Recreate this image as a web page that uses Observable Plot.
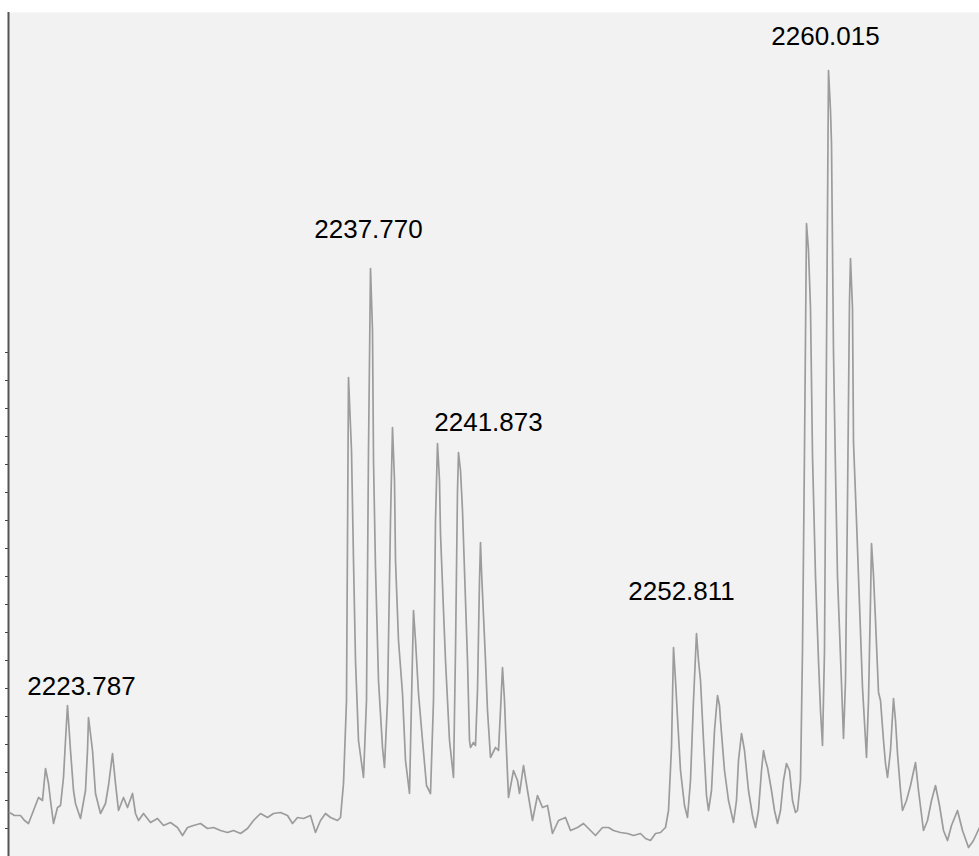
<!DOCTYPE html>
<html>
<head>
<meta charset="utf-8">
<script src="https://cdn.jsdelivr.net/npm/d3@7"></script>
<script src="https://cdn.jsdelivr.net/npm/@observablehq/plot@0.6"></script>
<style>
  html, body { margin: 0; padding: 0; background: #ffffff; }
  #chart svg { display: block; }
</style>
</head>
<body>
<div id="chart"></div>
<script>
// Spectrum trace: [m/z, counts]
const lowMassRegion = [
  [2220.90,220],[2221.15,205],[2221.45,205],[2221.65,180],[2221.85,165],[2222.10,230],[2222.35,295],[2222.55,280],
  [2222.70,440],[2222.85,365],[2222.95,280],[2223.10,165],[2223.30,245],[2223.45,255],[2223.60,395],[2223.70,580],
  [2223.80,755],[2223.95,530],[2224.10,330],[2224.20,265],[2224.45,190],[2224.70,330],[2224.80,530],[2224.85,695],
  [2225.05,530],[2225.20,315],[2225.45,215],[2225.70,265],[2225.85,355],[2226.05,515],[2226.20,365],[2226.35,230],
  [2226.60,295],[2226.80,245],[2227.05,315],[2227.20,215],[2227.35,180],[2227.60,215],[2227.95,170],[2228.30,190],
  [2228.60,155],[2228.95,170],[2229.30,145],[2229.55,105],[2229.80,145],[2230.10,155],[2230.45,165],[2230.80,140],
  [2231.10,145],[2231.45,130],[2231.80,120],[2232.10,130],[2232.45,115],[2232.80,140],[2233.10,180],[2233.45,215],
  [2233.80,195],[2234.10,215],[2234.45,220],[2234.80,205],[2235.05,165],[2235.30,195],[2235.60,190],[2235.95,205],
  [2236.20,120],[2236.45,180],[2236.70,215],[2236.95,195],[2237.30,180],[2237.45,195]
];
const cluster2238 = [
  [2237.60,365],[2237.75,780],[2237.85,2395],[2238.00,2030],[2238.10,1480],[2238.20,980],[2238.35,580],[2238.60,395],
  [2238.75,780],[2238.85,2030],[2238.95,2940],[2239.05,2630],[2239.10,1980],[2239.20,1445],[2239.35,880],[2239.55,545],
  [2239.65,445],[2239.80,780],[2239.95,1680],[2240.05,2145],[2240.15,1880],[2240.20,1480],[2240.35,1080],[2240.55,815],
  [2240.70,480],[2240.90,315],[2241.00,780],[2241.10,1230],[2241.20,1080],[2241.35,815],[2241.55,580],[2241.75,355],
  [2241.95,315],[2242.10,780],[2242.20,1680],[2242.30,2065],[2242.40,1880],[2242.45,1615],[2242.60,1230],[2242.70,980],
  [2242.90,580],[2243.10,395],[2243.20,1030],[2243.30,1830],[2243.35,2020],[2243.45,1930],[2243.55,1730],[2243.70,1280],
  [2243.80,980],[2243.90,580],[2243.95,545],[2244.10,570],[2244.20,555],[2244.30,830],[2244.40,1380],[2244.45,1570],
  [2244.50,1430],[2244.55,1315],[2244.70,980],[2244.80,730],[2244.95,495],[2245.20,545],[2245.35,530],[2245.45,730],
  [2245.55,945],[2245.65,780],[2245.70,645],[2245.85,295]
];
const midBaseline = [
  [2246.10,430],[2246.30,380],[2246.40,315],[2246.60,455],[2246.80,330],[2247.05,180],[2247.30,305],[2247.55,245],
  [2247.80,255],[2248.05,115],[2248.35,180],[2248.70,195],[2248.95,130],[2249.30,145],[2249.60,165],[2249.95,130],
  [2250.20,105],[2250.55,145],[2250.85,145],[2251.10,130],[2251.45,120],[2251.80,115],[2252.10,105],[2252.45,115],
  [2252.70,90],[2252.95,80],[2253.20,115],[2253.45,120],[2253.70,145],[2253.85,230]
];
const cluster2254 = [
  [2254.00,545],[2254.10,1045],[2254.20,880],[2254.30,695],[2254.45,430],[2254.65,255],[2254.80,195],[2254.95,380],
  [2255.10,780],[2255.25,1115],[2255.35,980],[2255.45,880],[2255.60,580],[2255.75,305],[2255.85,230],[2256.00,330],
  [2256.15,630],[2256.30,805],[2256.40,755],[2256.45,680],[2256.65,430],[2256.85,280],[2257.10,170],[2257.25,280],
  [2257.35,480],[2257.50,615],[2257.65,530],[2257.85,330],[2258.05,205],[2258.20,145],[2258.35,230],[2258.50,430],
  [2258.60,530],[2258.70,480],[2258.80,445],[2259.00,330],[2259.15,230],[2259.30,165],[2259.45,230],[2259.60,380],
  [2259.75,465],[2259.90,430],[2260.05,280],[2260.20,220],[2260.30,230]
];
const cluster2261 = [
  [2260.45,380],[2260.55,1030],[2260.65,2030],[2260.75,3165],[2260.85,3030],[2260.95,2740],[2261.05,2005],[2261.20,1400],
  [2261.35,980],[2261.45,730],[2261.55,555],[2261.65,1030],[2261.75,2530],[2261.85,3930],[2261.95,3730],[2262.00,3565],
  [2262.10,2520],[2262.20,1930],[2262.30,1400],[2262.45,1000],[2262.60,590],[2262.70,880],[2262.80,1780],[2262.90,2780],
  [2262.95,2990],[2263.05,2740],[2263.10,2070],[2263.25,1680],[2263.35,1400],[2263.55,845],[2263.75,495],[2263.85,780],
  [2263.95,1280],[2264.00,1565],[2264.10,1405],[2264.20,1180],[2264.35,820],[2264.45,780],[2264.60,580],[2264.70,465],
  [2264.80,395],[2264.95,530],[2265.10,790],[2265.20,680],[2265.30,515],[2265.45,330],[2265.55,230],[2265.75,280],
  [2265.95,355],[2266.20,470],[2266.35,330],[2266.60,130],[2266.80,180],[2267.00,280],[2267.20,355],[2267.40,255],
  [2267.60,130],[2267.80,80],[2268.00,155],[2268.30,230],[2268.55,130],[2268.85,45],[2269.10,80],[2269.40,145]
];

// Peak annotations
const labelText   = ["2223.787", "2237.770", "2241.873", "2252.811", "2260.015"];
const labelMz     = [2224.50, 2238.85, 2244.85, 2254.50, 2261.70];
const labelCounts = [850, 3135, 2170, 1325, 4100];

// Unlabelled tick marks on the intensity axis
const yTicks = [140, 280, 420, 560, 700, 840, 980, 1120, 1260, 1400, 1540, 1680, 1820, 1960, 2100, 2240, 2380, 2520];

const xDomain = [2220.85, 2269.40];
const yDomain = [0, 4220];

const spectrum = [...lowMassRegion, ...cluster2238, ...midBaseline, ...cluster2254, ...cluster2261]
  .map(([mz, counts]) => ({mz, counts}));
const labels = labelText.map((t, i) => ({text: t, mz: labelMz[i], counts: labelCounts[i]}));

const chart = Plot.plot({
  width: 979,
  height: 856,
  marginLeft: 8,
  marginRight: 0,
  marginTop: 12,
  marginBottom: 0,
  style: {background: "#ffffff", fontFamily: "'Liberation Sans', Arial, sans-serif", color: "#444"},
  x: {domain: xDomain, axis: null},
  y: {domain: yDomain, ticks: yTicks, tickSize: 3, tickPadding: 0, tickFormat: () => "", label: null},
  marks: [
    Plot.frame({fill: "#f2f2f2", stroke: null}),
    Plot.ruleX([xDomain[0]], {stroke: "#555555", strokeWidth: 2}),
    Plot.line(spectrum, {x: "mz", y: "counts", stroke: "#9c9c9c", strokeWidth: 1.7, curve: "linear"}),
    Plot.text(labels, {x: "mz", y: "counts", text: "text", fontSize: 26, fill: "#000000",
                        textAnchor: "middle", lineAnchor: "middle"})
  ]
});
document.getElementById("chart").appendChild(chart);
</script>
</body>
</html>
